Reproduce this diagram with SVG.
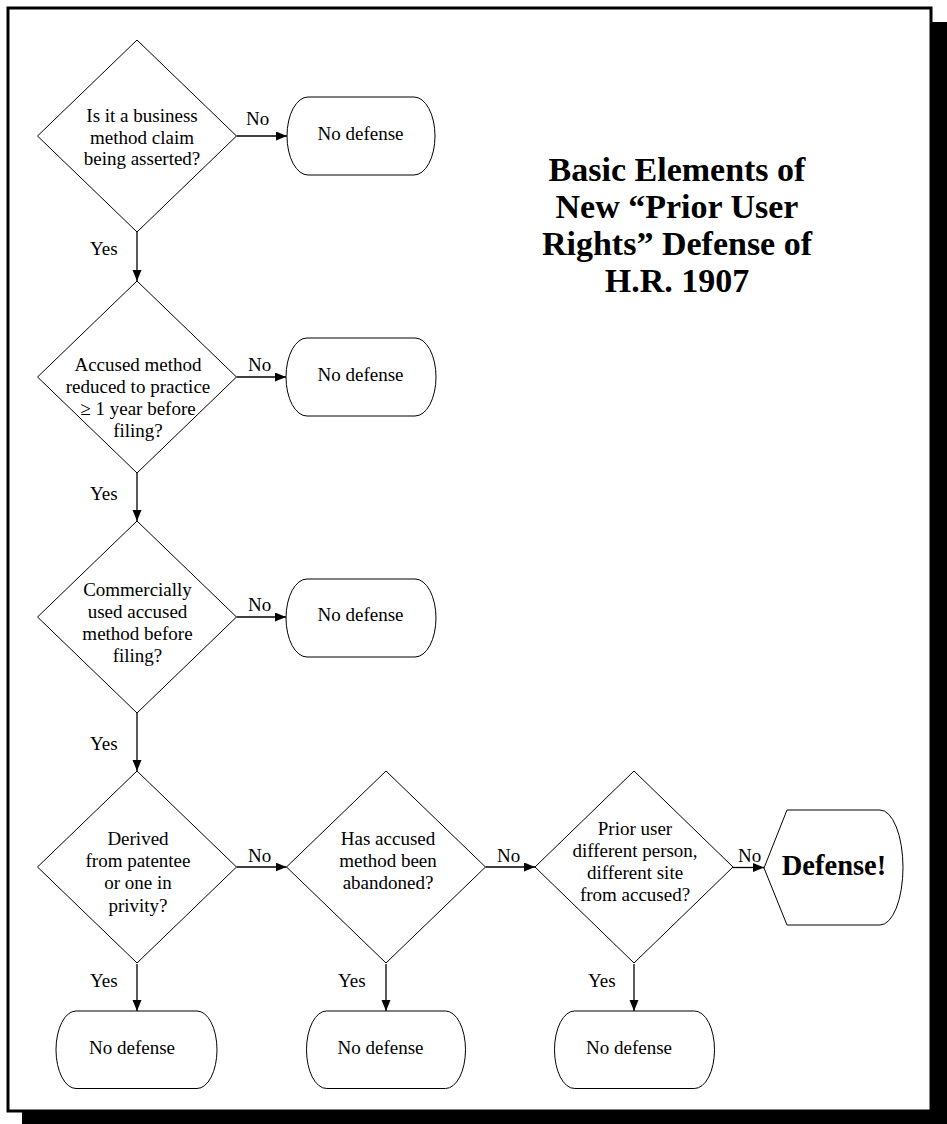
<svg xmlns="http://www.w3.org/2000/svg" width="947" height="1124" viewBox="0 0 947 1124">
  <defs>
    <marker id="arrow" markerUnits="userSpaceOnUse" markerWidth="12" markerHeight="10" refX="11" refY="4.5" orient="auto">
      <path d="M0,0 L11,4.5 L0,9 Z" fill="#000"/>
    </marker>
    <style>
      text { font-family: "Liberation Serif", "Times New Roman", serif; fill: #000; }
      .t { font-size: 19px; text-anchor: middle; }
      .lbl { font-size: 19px; }
      .title { font-size: 34px; font-weight: bold; text-anchor: middle; }
      .big { font-size: 28.5px; font-weight: bold; text-anchor: middle; }
      .shape { fill: #fff; stroke: #000; stroke-width: 1; }
      .conn { stroke: #000; stroke-width: 1.3; fill: none; marker-end: url(#arrow); }
    </style>
  </defs>

  <!-- frame with shadow -->
  <rect x="22" y="22" width="925" height="1102" fill="#000"/>
  <rect x="8" y="8" width="923" height="1103" fill="#fff" stroke="#000" stroke-width="3"/>

  <!-- title -->
  <g id="title">
    <text class="title" x="677" y="181">Basic Elements of</text>
    <text class="title" x="677" y="217.5">New “Prior User</text>
    <text class="title" x="677" y="254.5">Rights” Defense of</text>
    <text class="title" x="677" y="291.5">H.R. 1907</text>
  </g>

  <!-- connectors -->
  <g id="connectors">
    <line class="conn" x1="236.5" y1="136" x2="287" y2="136"/>
    <line class="conn" x1="137" y1="232" x2="137" y2="281"/>
    <line class="conn" x1="236.5" y1="377" x2="286" y2="377"/>
    <line class="conn" x1="137" y1="473" x2="137" y2="521"/>
    <line class="conn" x1="236.5" y1="617" x2="286" y2="617"/>
    <line class="conn" x1="137" y1="713" x2="137" y2="771"/>
    <line class="conn" x1="236.5" y1="867" x2="286.5" y2="867"/>
    <line class="conn" x1="485.5" y1="867" x2="535" y2="867"/>
    <line class="conn" x1="733" y1="867.5" x2="764" y2="867.5"/>
    <line class="conn" x1="137" y1="964" x2="137" y2="1011"/>
    <line class="conn" x1="386" y1="964" x2="386" y2="1011"/>
    <line class="conn" x1="634" y1="964" x2="634" y2="1011"/>
    <text class="lbl" x="246" y="125">No</text>
    <text class="lbl" x="90" y="255">Yes</text>
    <text class="lbl" x="248" y="370.5">No</text>
    <text class="lbl" x="90" y="500">Yes</text>
    <text class="lbl" x="248" y="610.5">No</text>
    <text class="lbl" x="90" y="749.5">Yes</text>
    <text class="lbl" x="248" y="861.5">No</text>
    <text class="lbl" x="497" y="861.5">No</text>
    <text class="lbl" x="738" y="861.5">No</text>
    <text class="lbl" x="90" y="987">Yes</text>
    <text class="lbl" x="338" y="987">Yes</text>
    <text class="lbl" x="588" y="987">Yes</text>
  </g>

  <!-- decision 1 -->
  <g id="d1">
    <polygon class="shape" points="137,40 236.5,136 137,232 37.5,136"/>
    <text class="t" x="142" y="122">Is it a business</text>
    <text class="t" x="142" y="143.5">method claim</text>
    <text class="t" x="142" y="165">being asserted?</text>
  </g>
  <g id="n1">
    <path class="shape" d="M308,97 H414 A21,39 0 0 1 414,175 H308 A21,39 0 0 1 308,97 Z"/>
    <text class="t" x="360.5" y="139.5">No defense</text>
  </g>

  <!-- decision 2 -->
  <g id="d2">
    <polygon class="shape" points="137,281 236.5,377 137,473 37.5,377"/>
    <text class="t" x="138" y="370.5">Accused method</text>
    <text class="t" x="138" y="392.5">reduced to practice</text>
    <text class="t" x="138" y="414.5">≥ 1 year before</text>
    <text class="t" x="138" y="436.5">filing?</text>
  </g>
  <g id="n2">
    <path class="shape" d="M307,338 H415 A21,39 0 0 1 415,416 H307 A21,39 0 0 1 307,338 Z"/>
    <text class="t" x="360.5" y="380.5">No defense</text>
  </g>

  <!-- decision 3 -->
  <g id="d3">
    <polygon class="shape" points="137,521 236.5,617 137,713 37.5,617"/>
    <text class="t" x="137.5" y="596">Commercially</text>
    <text class="t" x="137.5" y="618">used accused</text>
    <text class="t" x="137.5" y="640">method before</text>
    <text class="t" x="137.5" y="662">filing?</text>
  </g>
  <g id="n3">
    <path class="shape" d="M307,579 H415 A21,39 0 0 1 415,657 H307 A21,39 0 0 1 307,579 Z"/>
    <text class="t" x="360.5" y="621">No defense</text>
  </g>

  <!-- decision 4 -->
  <g id="d4">
    <polygon class="shape" points="137,771 236.5,867 137,963 37.5,867"/>
    <text class="t" x="138" y="845">Derived</text>
    <text class="t" x="138" y="867">from patentee</text>
    <text class="t" x="138" y="889">or one in</text>
    <text class="t" x="138" y="911.5">privity?</text>
  </g>

  <!-- decision 5 -->
  <g id="d5">
    <polygon class="shape" points="386,771 485.5,867 386,963 286.5,867"/>
    <text class="t" x="388" y="845">Has accused</text>
    <text class="t" x="388" y="867">method been</text>
    <text class="t" x="388" y="888.5">abandoned?</text>
  </g>

  <!-- decision 6 -->
  <g id="d6">
    <polygon class="shape" points="634,771 733,867 634,963 535,867"/>
    <text class="t" x="635" y="835">Prior user</text>
    <text class="t" x="635" y="857">different person,</text>
    <text class="t" x="635" y="879">different site</text>
    <text class="t" x="635" y="901">from accused?</text>
  </g>

  <!-- Defense! -->
  <g id="defense">
    <path class="shape" d="M764,868 L787,810 H880 A23,57.5 0 0 1 880,925 H787 Z"/>
    <text class="big" x="834" y="875">Defense!</text>
  </g>

  <!-- bottom terminals -->
  <g id="n4">
    <path class="shape" d="M76,1011 H197 A20,38.75 0 0 1 197,1088.5 H76 A20,38.75 0 0 1 76,1011 Z"/>
    <text class="t" x="132" y="1053.5">No defense</text>
  </g>
  <g id="n5">
    <path class="shape" d="M326.5,1011 H445.5 A20,38.75 0 0 1 445.5,1088.5 H326.5 A20,38.75 0 0 1 326.5,1011 Z"/>
    <text class="t" x="380.5" y="1053.5">No defense</text>
  </g>
  <g id="n6">
    <path class="shape" d="M574.5,1011 H694.5 A20,38.75 0 0 1 694.5,1088.5 H574.5 A20,38.75 0 0 1 574.5,1011 Z"/>
    <text class="t" x="629" y="1053.5">No defense</text>
  </g>
</svg>
